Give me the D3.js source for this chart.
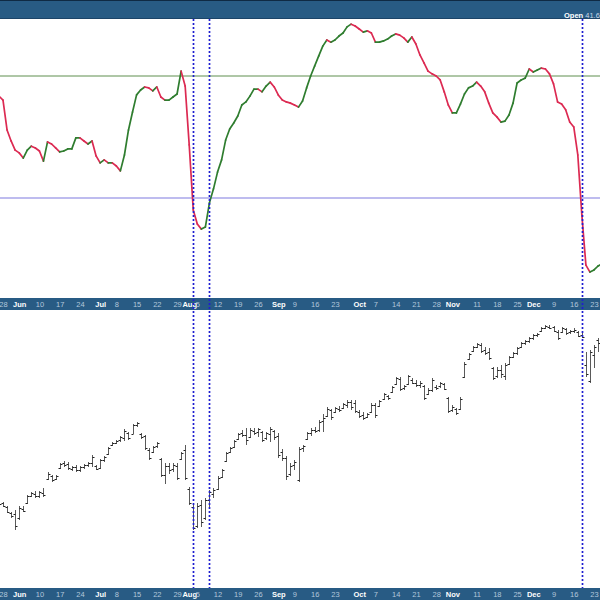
<!DOCTYPE html>
<html><head><meta charset="utf-8">
<script src="https://cdn.jsdelivr.net/npm/d3@7/dist/d3.min.js"></script>
<style>body{margin:0;background:#fff}svg{display:block}text{font-family:"Liberation Sans",Arial,sans-serif}</style>
</head><body><svg id="c" width="600" height="600"></svg>
<script>
// ---- categories: trading days (weekdays minus market holidays) ----
const firstDay = "2013-05-23", lastDay = "2013-12-26";
const holidays = ["2013-05-27","2013-07-04","2013-09-02","2013-11-28","2013-12-25"];

// ---- tick labels ----
const tickDates = ["2013-05-28","2013-06-03","2013-06-10","2013-06-17","2013-06-24","2013-07-01","2013-07-08","2013-07-15","2013-07-22","2013-07-29","2013-08-01","2013-08-05","2013-08-12","2013-08-19","2013-08-26","2013-09-03","2013-09-09","2013-09-16","2013-09-23","2013-10-01","2013-10-07","2013-10-14","2013-10-21","2013-10-28","2013-11-01","2013-11-11","2013-11-18","2013-11-25","2013-12-02","2013-12-09","2013-12-16","2013-12-23"];
const tickLabels = ["28","Jun","10","17","24","Jul","8","15","22","29","Aug","5","12","19","26","Sep","9","16","23","Oct","7","14","21","28","Nov","11","18","25","Dec","9","16","23"];

// ---- marker lines ----
const markerDates = ["2013-08-02","2013-08-08","2013-12-18"];
const upperLevel = 70, lowerLevel = 30;
const openLabel = "Open", openValue = "41.6";

// ---- oscillator (top panel) ----
const osc = [66.1,63.4,62.1,52.3,48.7,45.7,44.8,43.1,45.7,47.0,46.4,45.4,42.1,48.4,47.7,46.4,45.1,45.4,46.1,46.1,49.7,49.7,48.7,47.7,48.7,43.8,41.5,42.5,41.5,41.5,40.5,38.9,44.1,52.3,58.2,63.8,65.4,66.4,66.1,65.1,66.4,63.1,62.1,62.1,63.1,64.1,71.6,66.7,47.4,26.1,21.5,19.8,20.5,28.4,33.0,38.5,42.5,49.0,52.6,54.6,56.9,60.5,61.5,63.4,65.7,65.7,64.8,66.7,68.0,66.4,63.8,62.1,61.5,61.1,60.5,59.8,61.8,66.1,70.0,73.3,76.6,79.8,81.8,81.1,81.8,83.1,84.1,86.1,87.0,86.4,85.4,84.4,84.8,84.1,81.1,81.1,81.5,82.1,83.1,83.8,83.4,82.5,81.1,82.8,80.5,76.9,74.3,71.6,70.7,70.0,68.7,64.8,60.5,57.9,57.9,60.8,64.1,66.1,66.7,68.0,66.7,64.8,61.1,57.9,56.6,54.9,55.2,57.2,61.1,67.7,68.7,69.3,72.3,71.3,72.0,72.6,72.3,70.7,67.4,61.5,60.8,58.9,54.9,53.3,44.1,24.4,8.0,5.7,6.4,7.7,8.4];

// ---- price bars (bottom panel) ----
const highVals = [33.6,33.55,33.5,33.3,33.0,33.1,33.3,33.3,33.85,34.0,34.05,34.05,34.2,35.0,34.85,34.85,35.45,35.55,35.5,35.3,35.35,35.3,35.4,35.5,35.85,35.35,35.65,35.8,36.25,36.5,36.6,36.8,37.15,37.0,37.4,37.5,36.95,36.85,36.2,36.3,36.5,35.7,35.45,35.45,35.45,35.45,36.0,36.35,34.25,33.35,33.45,33.6,33.7,34.1,34.2,34.8,35.15,36.0,36.25,36.6,36.95,37.1,37.2,37.2,37.2,37.2,37.05,37.0,37.25,37.1,36.95,36.15,35.8,35.45,35.6,36.25,36.35,37.0,37.2,37.25,37.6,37.9,38.25,38.15,38.25,38.3,38.45,38.6,38.6,38.6,38.1,38.0,37.95,38.45,38.45,38.6,38.95,38.85,39.3,39.75,39.75,39.35,39.85,39.7,39.6,39.55,39.35,39.2,39.7,39.35,39.5,39.45,38.75,38.35,38.2,38.75,40.5,40.95,41.3,41.45,41.45,41.25,41.2,40.25,40.25,40.35,40.45,40.8,41.0,41.25,41.5,41.6,41.75,41.9,41.95,42.25,42.35,42.35,42.3,42.1,42.25,42.2,42.1,42.2,42.05,41.95,41.0,41.1,41.35,41.7,41.85];
const lowVals = [33.25,33.3,33.25,32.95,32.7,32.1,32.6,33.0,33.4,33.75,33.7,33.7,33.75,34.6,34.5,34.6,35.15,35.25,35.1,35.05,35.0,35.0,35.15,35.25,35.25,35.1,35.15,35.5,35.85,36.3,36.4,36.5,36.55,36.6,36.9,37.25,36.65,36.1,35.6,35.95,36.2,34.75,34.4,34.9,35.0,34.6,35.6,34.6,33.35,32.1,32.2,32.25,32.6,33.2,33.7,34.1,34.7,35.5,35.95,36.2,36.6,36.75,36.35,36.7,36.85,36.75,36.5,36.6,36.5,36.6,35.7,35.55,34.6,34.8,35.1,34.5,36.0,36.6,36.8,36.95,37.0,37.0,37.75,37.6,37.95,38.0,38.15,38.2,38.1,37.95,37.7,37.6,37.7,37.95,37.7,38.25,38.6,38.6,38.95,39.35,39.05,39.1,39.35,39.4,39.25,39.2,38.6,38.85,39.0,39.1,39.2,39.1,37.95,38.0,37.85,38.1,39.7,40.6,41.0,41.2,40.95,40.85,40.6,39.6,39.7,39.7,39.6,40.35,40.7,40.85,41.2,41.35,41.45,41.6,41.75,42.0,42.15,42.15,42.0,41.6,41.95,41.85,41.9,41.95,41.75,41.7,39.75,39.45,40.2,41.0,41.35];
const openVals = [33.3,33.5,33.45,33.25,32.95,32.9,32.7,33.15,33.45,33.8,33.9,33.8,33.95,34.65,34.8,34.65,35.2,35.45,35.4,35.15,35.25,35.1,35.25,35.35,35.45,35.3,35.2,35.6,35.9,36.35,36.45,36.6,36.7,36.95,36.9,37.35,36.9,36.8,36.1,36.0,36.3,35.65,34.85,35.3,35.15,35.3,35.65,36.1,34.15,33.25,32.3,33.35,32.7,33.6,33.9,34.15,34.75,35.55,36.0,36.25,36.65,36.95,36.85,36.75,37.05,37.0,37.0,36.7,36.9,37.05,36.8,36.0,35.7,34.9,35.35,34.6,36.2,36.65,36.95,37.1,37.1,37.55,37.8,38.1,38.0,38.15,38.2,38.35,38.5,38.45,38.0,37.85,37.75,38.0,38.35,38.3,38.65,38.8,39.0,39.4,39.65,39.2,39.4,39.6,39.45,39.35,39.3,38.9,39.1,39.25,39.3,39.4,38.7,38.1,38.15,38.15,39.75,40.65,41.05,41.25,41.35,41.1,41.0,40.2,39.8,40.1,39.8,40.4,40.75,40.95,41.25,41.45,41.55,41.7,41.85,42.05,42.2,42.25,42.25,42.0,42.0,42.15,42.0,42.05,42.0,41.85,40.35,39.55,40.85,41.6,41.55];
const closeVals = [33.5,33.4,33.3,33.0,32.8,32.3,33.2,33.05,33.8,33.95,33.8,34.0,33.85,34.9,34.6,34.8,35.4,35.35,35.2,35.25,35.1,35.25,35.35,35.45,35.75,35.15,35.6,35.75,36.2,36.45,36.55,36.75,37.05,36.7,37.35,37.45,36.75,36.2,35.7,36.25,36.45,34.85,35.3,35.1,35.35,34.7,35.95,34.7,33.45,32.2,33.3,32.5,33.6,34.0,34.1,34.7,35.1,35.95,36.2,36.55,36.9,36.85,36.6,37.1,36.95,37.15,36.6,36.95,37.15,36.75,35.85,35.7,34.8,35.3,35.5,36.15,36.3,36.95,37.1,37.05,37.5,37.7,38.15,37.75,38.2,38.1,38.4,38.5,38.25,38.05,37.8,37.7,37.9,38.35,37.85,38.55,38.9,38.7,39.25,39.7,39.15,39.3,39.8,39.45,39.35,39.45,38.7,39.1,39.6,39.2,39.45,39.15,38.05,38.25,37.95,38.65,40.4,40.9,41.25,41.4,41.05,40.95,40.7,39.7,40.1,39.9,40.35,40.75,40.95,41.2,41.45,41.55,41.7,41.85,41.9,42.2,42.3,42.2,42.05,41.7,42.2,41.95,42.05,42.1,41.8,41.75,39.9,41.0,41.25,41.45,41.7];

// ---------- build trading-day list ----------
const fmt = d3.utcFormat("%Y-%m-%d");
const days = d3.utcDays(new Date(firstDay + "T00:00Z"), new Date(lastDay + "T00:00Z"), 1)
  .concat([new Date(lastDay + "T00:00Z")])
  .filter(d => d.getUTCDay() !== 0 && d.getUTCDay() !== 6 && !holidays.includes(fmt(d)))
  .map(fmt);

const W = 600, H = 600;
const svg = d3.select("#c");
const BAND = "#285b84";

const topY0 = 19, topY1 = 298, midY1 = 310, botY1 = 588;

const x = d3.scalePoint().domain(days).range([-5.1, 602.1]);
const yOsc = d3.scaleLinear().domain([lowerLevel, upperLevel]).range([198, 76]);
const yPx = d3.scaleLinear().domain([29.2, 43.1]).range([botY1, midY1]);

// defs / clips
const defs = svg.append("defs");
defs.append("clipPath").attr("id", "clipTop").append("rect").attr("x", 0).attr("y", topY0).attr("width", W).attr("height", topY1 - topY0);
defs.append("clipPath").attr("id", "clipBot").append("rect").attr("x", 0).attr("y", midY1).attr("width", W).attr("height", botY1 - midY1);

svg.append("rect").attr("width", W).attr("height", H).attr("fill", "#fff");

// header band
svg.append("rect").attr("x", 0).attr("y", 0).attr("width", W).attr("height", topY0).attr("fill", BAND);
svg.append("line").attr("x1", 0).attr("x2", W).attr("y1", 0.5).attr("y2", 0.5).attr("stroke", "#0f2a44");
svg.append("line").attr("x1", 0).attr("x2", W).attr("y1", topY0 - 0.5).attr("y2", topY0 - 0.5).attr("stroke", "#1c4468");
const hdr = svg.append("text").attr("x", 564).attr("y", 17.5).attr("font-size", 7.5);
hdr.append("tspan").attr("font-weight", "bold").attr("fill", "#ffffff").text(openLabel);
hdr.append("tspan").attr("fill", "#c9d8e6").text(" " + openValue);

// top panel
const topG = svg.append("g").attr("clip-path", "url(#clipTop)");
topG.append("line").attr("x1", 0).attr("x2", W).attr("y1", yOsc(upperLevel)).attr("y2", yOsc(upperLevel))
  .attr("stroke", "#5f8f4f").attr("stroke-width", 1);
topG.append("line").attr("x1", 0).attr("x2", W).attr("y1", yOsc(lowerLevel)).attr("y2", yOsc(lowerLevel))
  .attr("stroke", "#7f7ae0").attr("stroke-width", 1.2);

const segs = d3.range(osc.length - 1).map(i => ({a: i, b: i + 1, up: osc[i + 1] >= osc[i]}));
topG.selectAll("line.seg").data(segs).join("line").attr("class", "seg")
  .attr("x1", d => x(days[d.a])).attr("y1", d => yOsc(osc[d.a]))
  .attr("x2", d => x(days[d.b])).attr("y2", d => yOsc(osc[d.b]))
  .attr("stroke", d => d.up ? "#2f7d2f" : "#dc2a52")
  .attr("stroke-width", 1.7).attr("stroke-linecap", "round");

// bottom panel OHLC
const botG = svg.append("g").attr("clip-path", "url(#clipBot)");
const bars = botG.selectAll("g.bar").data(days).join("g").attr("class", "bar")
  .attr("transform", d => `translate(${Math.round(x(d)) + 0.5},0)`);
bars.append("line").attr("y1", (d, i) => yPx(highVals[i])).attr("y2", (d, i) => yPx(lowVals[i]))
  .attr("stroke", "#5a5a5a").attr("stroke-width", 1);
bars.append("line").attr("x1", -2).attr("x2", 0).attr("y1", (d, i) => Math.round(yPx(openVals[i])) + 0.5).attr("y2", (d, i) => Math.round(yPx(openVals[i])) + 0.5)
  .attr("stroke", "#222").attr("stroke-width", 1);
bars.append("line").attr("x1", 0).attr("x2", 2).attr("y1", (d, i) => Math.round(yPx(closeVals[i])) + 0.5).attr("y2", (d, i) => Math.round(yPx(closeVals[i])) + 0.5)
  .attr("stroke", "#222").attr("stroke-width", 1);

// axis bands
function axisBand(y0) {
  svg.append("rect").attr("x", 0).attr("y", y0).attr("width", W).attr("height", 12).attr("fill", BAND);
  const g = svg.append("g").attr("transform", `translate(0,${y0})`)
    .call(d3.axisBottom(x).tickValues(tickDates).tickFormat((d, i) => tickLabels[i]).tickSize(0).tickPadding(4));
  g.select(".domain").remove();
  g.selectAll("text")
    .attr("font-family", "'Liberation Sans', Arial, sans-serif")
    .attr("font-size", 7.5)
    .attr("font-weight", d => isNaN(+tickLabels[tickDates.indexOf(d)]) ? "bold" : "normal")
    .attr("fill", d => isNaN(+tickLabels[tickDates.indexOf(d)]) ? "#ffffff" : "#b3c7db");
}
axisBand(topY1);
axisBand(botY1);

// marker dashed lines
svg.selectAll("line.marker").data(markerDates).join("line").attr("class", "marker")
  .attr("x1", d => Math.round(x(d)) + 0.5).attr("x2", d => Math.round(x(d)) + 0.5)
  .attr("y1", topY0).attr("y2", botY1)
  .attr("stroke", "#1e1ed0").attr("stroke-width", 1.7).attr("stroke-dasharray", "2,2");
</script></body></html>
